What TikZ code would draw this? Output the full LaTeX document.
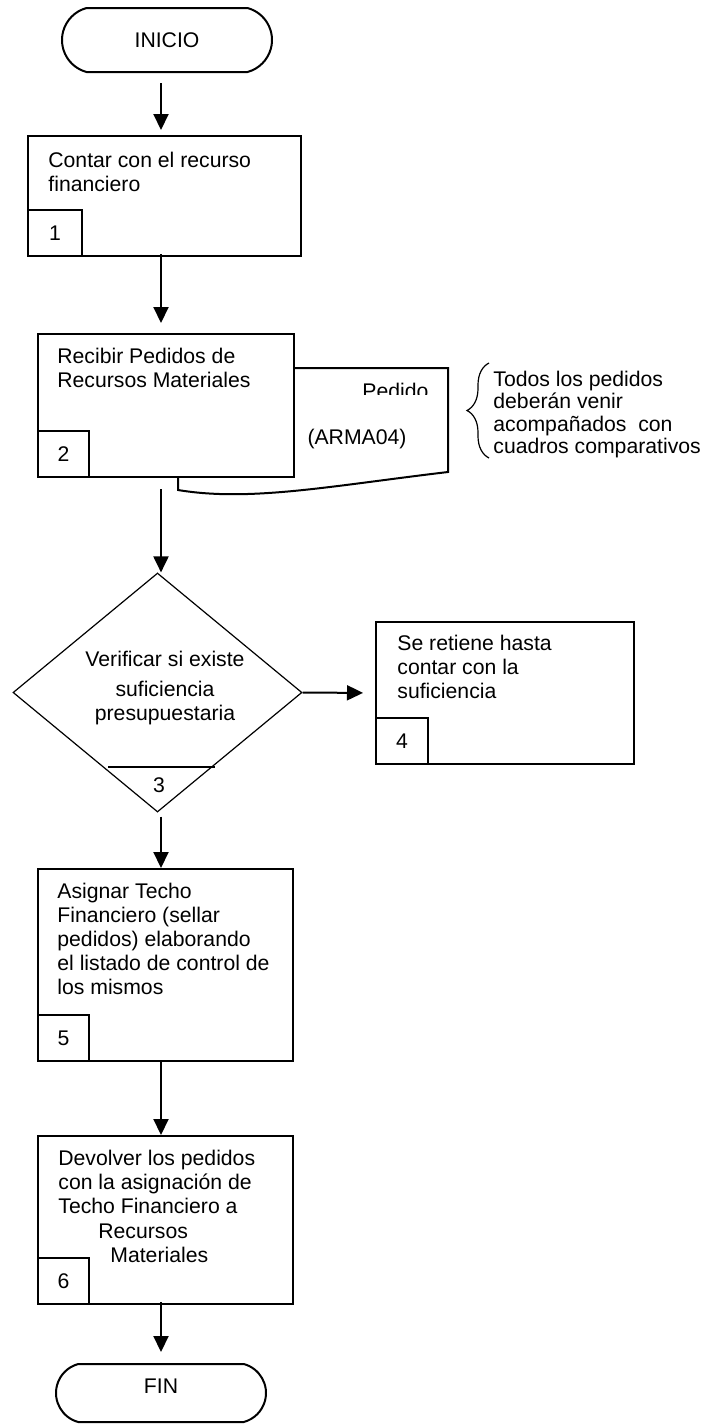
\documentclass[tikz,border=0pt]{standalone}
\usepackage{fontspec}
\setmainfont{Liberation Sans}
\usetikzlibrary{shapes.geometric,shapes.misc,arrows.meta,decorations.pathreplacing,calc}
\newcommand{\tlines}[1]{\begin{tabular}[t]{@{}l@{}}#1\end{tabular}}
\newcommand{\tclines}[1]{\begin{tabular}[t]{@{}c@{}}#1\end{tabular}}
\begin{document}
\begin{tikzpicture}[x=0.5pt,y=-0.5pt,
  every node/.style={font=\fontsize{10.6}{12}\selectfont},
  box/.style={draw, line width=1pt, fill=white, rectangle, inner sep=0pt, anchor=north west},
  numbox/.style={draw, line width=1pt, rectangle, inner sep=0pt, minimum width=25.5pt, minimum height=23pt, anchor=south west},
  term/.style={draw, line width=1pt, rounded rectangle, rounded rectangle arc length=150, inner sep=0pt, minimum width=105pt, minimum height=32pt},
  txt/.style={anchor=base west, inner sep=0pt},
  arr/.style={line width=1pt, -{Triangle[length=8pt,width=7.5pt]}}
]
\useasboundingbox (0,0) rectangle (703,1425);
\coordinate (col) at (161,0);

% INICIO
\node[term] (ini) at (167,40) {INICIO};

% Step 1
\node[box, minimum width=136.5pt, minimum height=60pt] (b1) at (27,135) {};
\node[numbox, minimum width=27pt] (n1) at (b1.south west) {1};
\node[txt] (t1) at (48,167) {\tlines{Contar con el recurso\\financiero}};

% Document (behind step 2)
\draw[line width=1pt, fill=white] (178,368) -- (448,368) -- (448,472)
  .. controls (330,486) and (250,502) .. (178,490) -- cycle;
\begin{scope}
  \clip (300,360) rectangle (446,394);
  \node[txt] (ped) at (362,398) {Pedido};
\end{scope}
\node[anchor=base, inner sep=0pt] (arma) at (357,444) {(ARMA04)};

% Step 2
\node[box, minimum width=128pt, minimum height=71.5pt] (b2) at (37,333) {};
\node[numbox] (n2) at (b2.south west) {2};
\node[txt] (t2) at (57,363) {\tlines{Recibir Pedidos de\\Recursos Materiales}};

% Brace note
\draw[line width=0.6pt, decorate, decoration={brace, amplitude=11pt}] (489,458) -- (489,363);
\node[txt, font=\fontsize{10.6}{11.25}\selectfont] (note) at (493,386)
  {\tlines{Todos los pedidos\\deberán venir\\acompañados~ con\\cuadros comparativos}};

% Decision 3
\node[draw, diamond, line width=0.6pt, minimum width=144.5pt, minimum height=119.5pt, inner sep=0pt] (dia) at (157.5,692.5) {};
\draw[line width=1pt] (108,767) -- (215,767);
\node[anchor=base, inner sep=0pt] (n3) at (159,792) {3};
\node[anchor=base, inner sep=0pt] (t3) at (165,666) {\tclines{Verificar si existe\\[3pt]suficiencia\\presupuestaria}};

% Step 4
\node[box, minimum width=129pt, minimum height=71pt] (b4) at (375,621) {};
\node[numbox, minimum width=26pt] (n4) at (b4.south west) {4};
\node[txt] (t4) at (397,650) {\tlines{Se retiene hasta\\contar con la\\suficiencia}};

% Step 5
\node[box, minimum width=127.5pt, minimum height=96pt] (b5) at (37,868) {};
\node[numbox] (n5) at (b5.south west) {5};
\node[txt] (t5) at (57,898) {\tlines{Asignar Techo\\Financiero (sellar\\pedidos) elaborando\\el listado de control de\\los mismos}};

% Step 6
\node[box, minimum width=127.5pt, minimum height=84pt] (b6) at (37,1135) {};
\node[numbox] (n6) at (b6.south west) {6};
\node[txt, font=\fontsize{10.6}{12.2}\selectfont] (t6) at (58,1165) {\tlines{Devolver los pedidos\\con la asignación de\\Techo Financiero a\\\hspace*{20pt}Recursos\\\hspace*{26pt}Materiales}};

% FIN
\node[term, minimum height=29pt, text height=7.5pt, text depth=7.5pt] (fin) at (161,1393) {FIN};

% Connectors
\draw[arr, shorten <=5pt, shorten >=2.5pt] (ini.south -| col) -- (b1.north -| col);
\draw[arr, shorten <=-1.5pt, shorten >=5pt] (b1.south -| col) -- (b2.north -| col);
\draw[arr, shorten <=5.5pt] (b2.south -| col) -- (dia.north -| col);
\draw[arr, shorten >=6pt] (dia.east) -- (b4.west);
\draw[arr, shorten <=2pt] (dia.south -| col) -- (b5.north -| col);
\draw[arr] (b5.south -| col) -- (b6.north -| col);
\draw[arr, shorten <=-1.5pt, shorten >=5.5pt] (b6.south -| col) -- (fin.north -| col);
\end{tikzpicture}
\end{document}
